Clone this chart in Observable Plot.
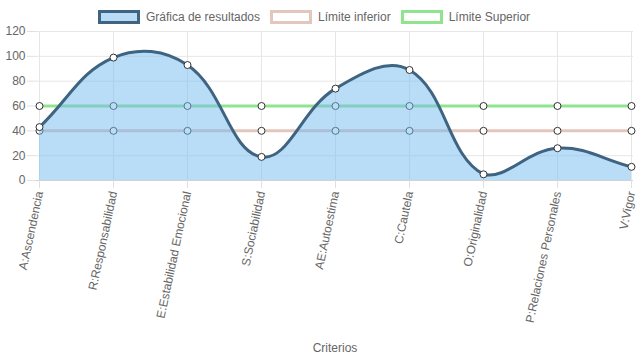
<!DOCTYPE html>
<html>
<head>
<meta charset="utf-8">
<script src="https://cdn.jsdelivr.net/npm/d3@7"></script>
<script src="https://cdn.jsdelivr.net/npm/@observablehq/plot@0.6"></script>
<style>
  html, body { margin: 0; padding: 0; background: #fff; }
  body { width: 637px; height: 359px; overflow: hidden; font-family: "Liberation Sans", Arial, Helvetica, sans-serif; }
  #legend { height: 26px; display: flex; justify-content: center; align-items: center; font-size: 12px; color: #666; padding-top: 8px; padding-right: 9px; box-sizing: border-box; }
  .item { display: flex; align-items: center; margin: 0 5px; }
  .sw { width: 36px; height: 8px; border-width: 3px; border-style: solid; margin-right: 6px; }
  #chart svg { display: block; }
</style>
</head>
<body>
<div id="legend"></div>
<div id="chart"></div>
<script>
const categories = ["A:Ascendencia", "R:Responsabilidad", "E:Estabilidad Emocional", "S:Sociabilidad", "AE:Autoestima", "C:Cautela", "O:Originalidad", "P:Relaciones Personales", "V:Vigor"];
const resultados = [43, 99, 93, 19, 74, 89, 5, 26, 11];
const limiteInferior = [40, 40, 40, 40, 40, 40, 40, 40, 40];
const limiteSuperior = [60, 60, 60, 60, 60, 60, 60, 60, 60];
const yTicks = [0, 20, 40, 60, 80, 100, 120];
const seriesNames = ["Gráfica de resultados", "Límite inferior", "Límite Superior"];

const colors = {
  resLine: "#3e6482",
  resFill: "rgb(115,185,239)",
  inf: "#e3c6bc",
  sup: "#90e48f"
};

// layout
const W = 637, H = 333, MT = 5, ML = 36, MR = 4, MB = 179;

// legend
const legend = document.getElementById("legend");
const legendStyles = [
  {border: colors.resLine, bg: "#b8dbf7"},
  {border: colors.inf, bg: "#fff"},
  {border: colors.sup, bg: "#fff"}
];
seriesNames.forEach((n, i) => {
  const it = document.createElement("div");
  it.className = "item";
  const sw = document.createElement("span");
  sw.className = "sw";
  sw.style.borderColor = legendStyles[i].border;
  sw.style.background = legendStyles[i].bg;
  const t = document.createElement("span");
  t.textContent = n;
  it.appendChild(sw); it.appendChild(t);
  legend.appendChild(it);
});

// Chart.js-like spline (tension 0.4, distance-weighted, capped to chart area)
function makeChartJsCurve(tension, area) {
  function C(context) { this._context = context; }
  C.prototype = {
    areaStart() { this._line = 0; },
    areaEnd() { this._line = NaN; },
    lineStart() { this._x = []; this._y = []; },
    lineEnd() {
      const x = this._x, y = this._y, n = x.length, ctx = this._context;
      if (n) {
        this._line ? ctx.lineTo(x[0], y[0]) : ctx.moveTo(x[0], y[0]);
        const cpPrev = [], cpNext = [];
        for (let i = 0; i < n; i++) {
          const pi = i > 0 ? i - 1 : i, ni = i < n - 1 ? i + 1 : i;
          const d01 = Math.hypot(x[i] - x[pi], y[i] - y[pi]);
          const d12 = Math.hypot(x[ni] - x[i], y[ni] - y[i]);
          let s01 = d01 / (d01 + d12), s12 = d12 / (d01 + d12);
          if (!isFinite(s01)) s01 = 0;
          if (!isFinite(s12)) s12 = 0;
          const fa = tension * s01, fb = tension * s12;
          const cl = (v, a, b) => Math.max(a, Math.min(b, v));
          cpPrev.push([cl(x[i] - fa * (x[ni] - x[pi]), area.left, area.right), cl(y[i] - fa * (y[ni] - y[pi]), area.top, area.bottom)]);
          cpNext.push([cl(x[i] + fb * (x[ni] - x[pi]), area.left, area.right), cl(y[i] + fb * (y[ni] - y[pi]), area.top, area.bottom)]);
        }
        for (let i = 1; i < n; i++) {
          ctx.bezierCurveTo(cpNext[i - 1][0], cpNext[i - 1][1], cpPrev[i][0], cpPrev[i][1], x[i], y[i]);
        }
      }
      if (this._line || (this._line !== 0 && n === 1)) ctx.closePath();
      this._line = 1 - this._line;
      this._x = this._y = null;
    },
    point(x, y) { this._x.push(+x); this._y.push(+y); }
  };
  return (context) => new C(context);
}
const chartArea = {left: ML, right: W - MR, top: MT, bottom: H - MB};
const curve = {curve: makeChartJsCurve(0.4, chartArea)};

const res = categories.map((c, i) => ({c, v: resultados[i]}));
const inf = categories.map((c, i) => ({c, v: limiteInferior[i]}));
const sup = categories.map((c, i) => ({c, v: limiteSuperior[i]}));

const chart = Plot.plot({
  width: W,
  height: H,
  marginTop: MT,
  marginLeft: ML,
  marginRight: MR,
  marginBottom: MB,
  style: {fontFamily: "Liberation Sans, Arial, sans-serif", fontSize: "12px", color: "#666", background: "#fff", overflow: "visible"},
  x: {type: "point", domain: categories, padding: 0, label: null},
  y: {domain: [0, 120], label: null},
  marks: [
    Plot.gridY(yTicks, {stroke: "#e6e6e6", strokeOpacity: 1}),
    Plot.gridX(categories, {stroke: "#e6e6e6", strokeOpacity: 1}),
    Plot.ruleY([0], {stroke: "#d2d2d2"}),
    Plot.axisY(yTicks, {tickSize: 9, tickPadding: 2, stroke: "#e0e0e0", fill: "#666", fontSize: 12, label: null}),
    Plot.axisX(categories, {tickSize: 8, tickPadding: 3, tickRotate: -78, stroke: "#e0e0e0", fill: "#666", fontSize: 12, label: null}),
    Plot.text(["Criterios"], {frameAnchor: "bottom", dy: 171, fill: "#666", fontSize: 12}),
    Plot.line(inf, {x: "c", y: "v", stroke: colors.inf, strokeWidth: 3}),
    Plot.line(sup, {x: "c", y: "v", stroke: colors.sup, strokeWidth: 3}),
    Plot.dot(inf, {x: "c", y: "v", r: 3.5, fill: "#fff", stroke: "#333", strokeWidth: 1}),
    Plot.dot(sup, {x: "c", y: "v", r: 3.5, fill: "#fff", stroke: "#333", strokeWidth: 1}),
    Plot.areaY(res, {x: "c", y: "v", fill: colors.resFill, fillOpacity: 0.5, ...curve}),
    Plot.line(res, {x: "c", y: "v", stroke: colors.resLine, strokeWidth: 3, ...curve}),
    Plot.dot(res, {x: "c", y: "v", r: 3.5, fill: "#fff", stroke: "#333", strokeWidth: 1})
  ]
});
document.getElementById("chart").appendChild(chart);
</script>
</body>
</html>
